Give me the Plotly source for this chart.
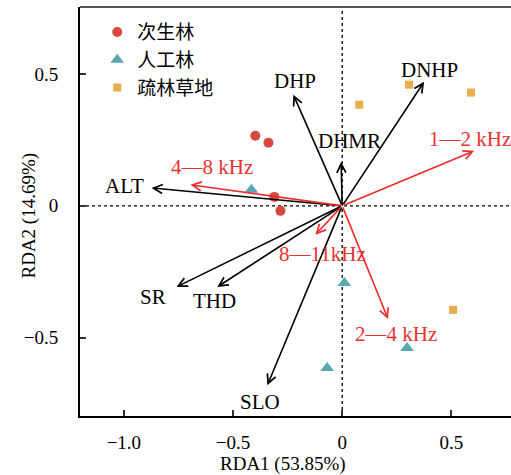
import plotly.graph_objects as go

# ---- data ----
groups = ["次生林", "人工林", "疏林草地"]
sec_x = [-0.398, -0.338, -0.311, -0.283]
sec_y = [0.266, 0.240, 0.034, -0.019]
pla_x = [-0.416, 0.010, 0.297, -0.069]
pla_y = [0.061, -0.293, -0.540, -0.616]
sav_x = [0.306, 0.590, 0.078, 0.508]
sav_y = [0.460, 0.430, 0.384, -0.395]

env_names = ["DHP", "DNHP", "DHMR", "ALT", "SR", "THD", "SLO"]
env_x = [-0.224, 0.375, -0.005, -0.873, -0.759, -0.572, -0.343]
env_y = [0.422, 0.471, 0.167, 0.068, -0.308, -0.308, -0.681]
env_lx = [-0.215, 0.40, 0.035, -0.995, -0.865, -0.585, -0.375]
env_ly = [0.475, 0.515, 0.245, 0.076, -0.345, -0.36, -0.745]

snd_names = ["1—2 kHz", "4—8 kHz", "2—4 kHz", "8—11kHz"]
snd_x = [0.604, -0.695, 0.210, -0.123]
snd_y = [0.209, 0.080, -0.430, -0.110]
snd_lx = [0.585, -0.595, 0.247, -0.090]
snd_ly = [0.255, 0.148, -0.487, -0.183]

xr = [-1.201, 0.773]
yr = [-0.798, 0.755]
xticks = [-1.0, -0.5, 0, 0.5]
xtick_text = ["−1.0", "−0.5", "0", "0.5"]
yticks = [-0.5, 0, 0.5]
ytick_text = ["−0.5", "0", "0.5"]
x_title = "RDA1 (53.85%)"
y_title = "RDA2 (14.69%)"

SERIF = "Liberation Serif, Times New Roman, serif"
CJK = "Liberation Serif, Noto Sans CJK SC"
RED = "#ee2b2b"

fig = go.Figure()
fig.add_trace(go.Scatter(x=sec_x, y=sec_y, mode="markers", name=groups[0],
                         marker=dict(symbol="circle", size=10, color="#d6493e")))
fig.add_trace(go.Scatter(x=pla_x, y=pla_y, mode="markers", name=groups[1],
                         marker=dict(symbol="triangle-up", size=12, color="#5aa9b0")))
fig.add_trace(go.Scatter(x=sav_x, y=sav_y, mode="markers", name=groups[2],
                         marker=dict(symbol="square", size=8, color="#e9ad4c")))

ann = []
for nm, x, y, lx, ly in zip(env_names, env_x, env_y, env_lx, env_ly):
    ann.append(dict(x=x, y=y, ax=0, ay=0, xref="x", yref="y", axref="x", ayref="y",
                    text="", showarrow=True, arrowhead=5, arrowsize=1.1,
                    arrowwidth=1.6, arrowcolor="black"))
    ann.append(dict(x=lx, y=ly, xref="x", yref="y", text=nm, showarrow=False,
                    font=dict(family=SERIF, size=21, color="black")))
for nm, x, y, lx, ly in zip(snd_names, snd_x, snd_y, snd_lx, snd_ly):
    ann.append(dict(x=x, y=y, ax=0, ay=0, xref="x", yref="y", axref="x", ayref="y",
                    text="", showarrow=True, arrowhead=5, arrowsize=1.1,
                    arrowwidth=1.6, arrowcolor=RED))
    ann.append(dict(x=lx, y=ly, xref="x", yref="y", text=nm, showarrow=False,
                    font=dict(family=SERIF, size=21, color="#e8322f")))

# axis titles
ann.append(dict(x=0.47, y=0, xref="paper", yref="paper", text=x_title,
                showarrow=False, xanchor="center", yanchor="middle", yshift=-48,
                font=dict(family=SERIF, size=19, color="black")))
ann.append(dict(x=0, y=0.5, xref="paper", yref="paper", text=y_title,
                showarrow=False, xanchor="center", yanchor="middle",
                xshift=-52, yshift=-4, textangle=-90,
                font=dict(family=SERIF, size=19, color="black")))

shapes = [
    dict(type="line", xref="x", yref="paper", x0=0, x1=0, y0=0, y1=1,
         line=dict(color="black", width=1.3, dash="dot"), layer="below"),
    dict(type="line", xref="paper", yref="y", x0=0, x1=1, y0=0, y1=0,
         line=dict(color="black", width=1.3, dash="dot"), layer="below"),
    dict(type="line", xref="paper", yref="paper", x0=0, x1=1, y0=1, y1=1,
         line=dict(color="#555555", width=2)),
]

fig.update_layout(
    width=511, height=475,
    margin=dict(l=80, r=0, t=7, b=59),
    plot_bgcolor="white", paper_bgcolor="white",
    font=dict(family=SERIF, size=19, color="black"),
    showlegend=True,
    legend=dict(x=0.04, y=0.985, xanchor="left", yanchor="top",
                bgcolor="rgba(0,0,0,0)", font=dict(family=CJK, size=19),
                itemwidth=30, tracegroupgap=0),
    annotations=ann,
    shapes=shapes,
    xaxis=dict(range=xr, tickvals=xticks, ticktext=xtick_text, ticks="inside",
               ticklen=6, tickwidth=1.5, tickcolor="#333", showgrid=False,
               zeroline=False, showline=True, linecolor="black", linewidth=2,
               ticklabelstandoff=8),
    yaxis=dict(range=yr, tickvals=yticks, ticktext=ytick_text, ticks="inside",
               ticklen=6, tickwidth=1.5, tickcolor="#333", showgrid=False,
               zeroline=False, showline=True, linecolor="black", linewidth=2,
               ticklabelstandoff=16),
)

fig.write_html("out.html")
